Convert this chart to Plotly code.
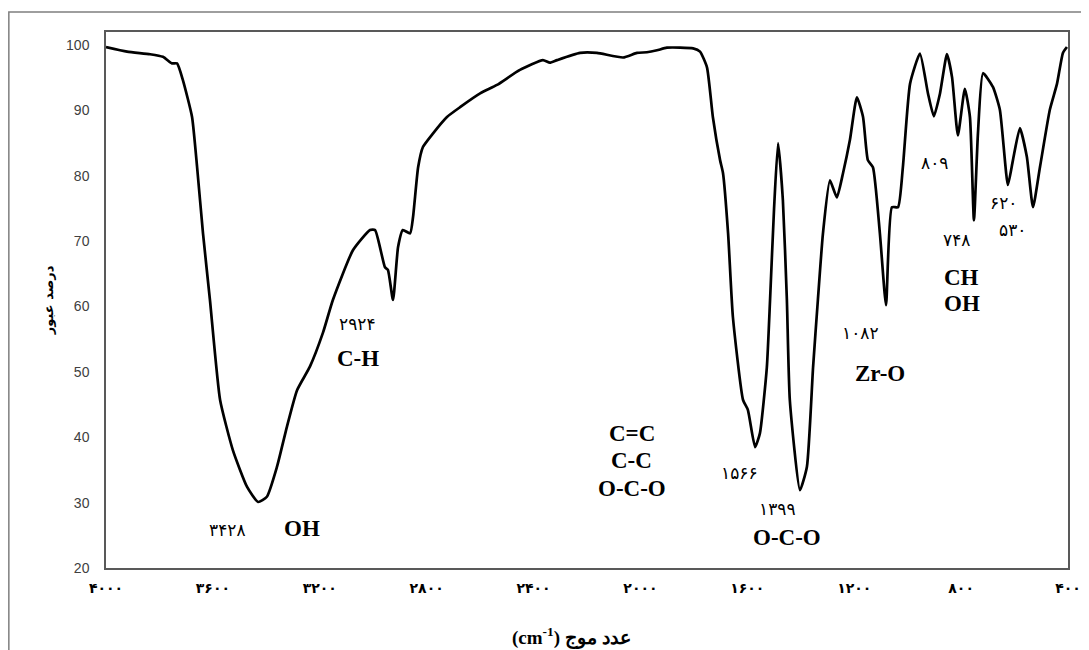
import plotly.graph_objects as go

# FTIR spectrum
wavenumber = [4000, 3921, 3835, 3787, 3753, 3734, 3712, 3678, 3659, 3637, 3611, 3573,
              3525, 3472, 3431, 3398, 3360, 3323, 3285, 3237, 3188, 3151, 3076, 3012,
              2993, 2956, 2945, 2926, 2907, 2889, 2862, 2851, 2832, 2814, 2776, 2724,
              2675, 2600, 2537, 2451, 2365, 2339, 2312, 2226, 2163, 2065, 2013, 1976,
              1938, 1901, 1803, 1777, 1751, 1729, 1702, 1691, 1672, 1654, 1616, 1598,
              1571, 1553, 1527, 1515, 1500, 1485, 1467, 1452, 1441, 1403, 1377, 1354,
              1336, 1317, 1291, 1265, 1242, 1216, 1190, 1167, 1149, 1130, 1104, 1081,
              1059, 1036, 1018, 991, 954, 924, 902, 879, 853, 834, 812, 786, 767, 752,
              737, 718, 681, 655, 625, 606, 580, 554, 531, 505, 468, 441, 419, 404]
transmittance = [99.7, 99.0, 98.6, 98.2, 97.2, 97.2, 94.6, 89.0, 81.3, 71.2, 61.0, 45.7,
                 38.0, 32.4, 30.1, 30.9, 35.5, 41.6, 47.2, 50.8, 56.0, 61.0, 68.6, 71.7,
                 71.7, 66.0, 65.6, 61.0, 69.1, 71.7, 71.2, 73.7, 81.3, 84.4, 86.5, 89.0,
                 90.5, 92.6, 93.9, 96.2, 97.7, 97.3, 97.7, 98.8, 98.8, 98.1, 98.8, 98.9,
                 99.2, 99.6, 99.5, 99.0, 96.6, 89.0, 82.4, 80.4, 71.2, 58.4, 45.7, 44.2,
                 38.5, 40.6, 50.7, 61.0, 75.0, 85.0, 76.3, 61.0, 45.7, 31.9, 35.5, 50.7,
                 61.0, 71.2, 79.3, 76.7, 80.4, 85.5, 92.0, 89.0, 82.4, 81.3, 71.2, 60.2,
                 75.2, 75.2, 81.3, 94.1, 98.7, 92.6, 89.1, 92.6, 98.6, 95.1, 86.2, 93.3, 89.0, 73.2,
                 86.5, 95.7, 93.6, 90.1, 78.6, 82.4, 87.3, 82.9, 75.2, 81.3, 90.1, 94.1, 98.8, 99.7]

x_tick_vals = [4000, 3600, 3200, 2800, 2400, 2000, 1600, 1200, 800, 400]
x_tick_text = ["۴۰۰۰", "۳۶۰۰", "۳۲۰۰", "۲۸۰۰", "۲۴۰۰", "۲۰۰۰", "۱۶۰۰", "۱۲۰۰", "۸۰۰", "۴۰۰"]
y_tick_vals = [20, 30, 40, 50, 60, 70, 80, 90, 100]

# peak-number labels (Persian digits) and group labels
num_labels = ["۳۴۲۸", "۲۹۲۴", "۱۵۶۶", "۱۳۹۹", "۱۰۸۲", "۸۰۹", "۷۴۸", "۶۲۰", "۵۳۰"]
num_x = [3547, 3057, 1628, 1489, 1178, 898, 816, 643, 606]
num_y = [25.8, 57.3, 34.5, 29.0, 55.9, 82.0, 70.2, 75.8, 71.7]

grp_labels = ["OH", "C-H", "C=C", "C-C", "O-C-O", "O-C-O", "Zr-O", "CH", "OH"]
grp_x = [3267, 3057, 2032, 2032, 2032, 1452, 1104, 797, 797]
grp_y = [26.1, 52.1, 40.6, 36.4, 32.2, 24.6, 49.8, 64.4, 60.5]

fig = go.Figure()
fig.add_trace(go.Scatter(
    x=wavenumber, y=transmittance, mode="lines",
    line=dict(color="black", width=2.7, shape="spline", smoothing=0.5),
    showlegend=False, hoverinfo="skip"))

annotations = []
for t, xv, yv in zip(num_labels, num_x, num_y):
    annotations.append(dict(x=xv, y=yv, xref="x", yref="y", text=t, showarrow=False,
                            font=dict(family="DejaVu Sans", size=17, color="black")))
for t, xv, yv in zip(grp_labels, grp_x, grp_y):
    annotations.append(dict(x=xv, y=yv, xref="x", yref="y", text="<b>" + t + "</b>",
                            showarrow=False,
                            font=dict(family="Liberation Serif", size=23, color="black")))

annotations.append(dict(x=-0.07, y=0.5, xref="paper", yref="paper", text="<b>درصد عبور</b>",
                        textangle=-90, showarrow=False,
                        font=dict(family="DejaVu Sans", size=13, color="black")))
annotations.append(dict(x=0.484, y=-0.155, xref="paper", yref="paper",
                        text="<b>(cm<sup>-1</sup>) عدد موج</b>", showarrow=False,
                        font=dict(family="Liberation Serif", size=19, color="black")))

fig.update_layout(
    width=1089, height=650,
    margin=dict(l=98, r=29, t=24, b=90),
    paper_bgcolor="white", plot_bgcolor="white",
    annotations=annotations,
    shapes=[dict(type="rect", xref="paper", yref="paper", x0=-0.1010, y0=-0.3,
                 x1=1.2, y1=1.0373, line=dict(color="#7f7f7f", width=1.5),
                 fillcolor="rgba(0,0,0,0)", layer="below")],
)
fig.update_xaxes(range=[4000, 400], tickvals=x_tick_vals, ticktext=x_tick_text,
                 showgrid=False, zeroline=False, showline=True, mirror=True,
                 linecolor="#595959", linewidth=1.5, ticks="",
                 ticklabelstandoff=6,
                 tickfont=dict(family="DejaVu Sans", size=14, color="black", weight="bold"))
fig.update_yaxes(range=[20, 102], tickvals=y_tick_vals,
                 showgrid=False, zeroline=False, showline=True, mirror=True,
                 linecolor="#595959", linewidth=1.5, ticks="",
                 ticklabelstandoff=12,
                 tickfont=dict(family="Liberation Sans", size=14, color="#404040"))

fig.write_html("out.html")
